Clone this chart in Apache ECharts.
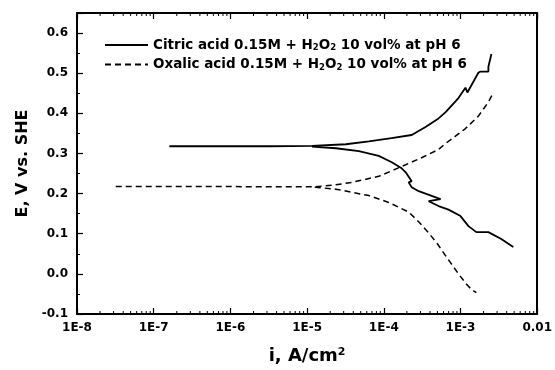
<!DOCTYPE html>
<html><head><meta charset="utf-8">
<script src="https://cdn.jsdelivr.net/npm/echarts@6/dist/echarts.min.js"></script>
<style>html,body{margin:0;padding:0;background:#fff}#c{width:555px;height:370px}</style>
</head><body><div id="c"></div>
<script>
// Tick labels
const xTickLabels = ['1E-8','1E-7','1E-6','1E-5','1E-4','1E-3','0.01'];
const yTickLabels = ['-0.1','0.0','0.1','0.2','0.3','0.4','0.5','0.6'];
const seriesNames = ['Citric acid 0.15M + H2O2 10 vol% at pH 6', 'Oxalic acid 0.15M + H2O2 10 vol% at pH 6'];

// Citric acid: [i (A/cm2), E (V vs SHE)]
const citricAnodic = [
  [1.6e-7,0.318],[3.2e-6,0.318],[1.16e-5,0.319],[3.2e-5,0.323],[6.4e-5,0.330],
  [1.26e-4,0.338],[2.31e-4,0.346],[3.5e-4,0.366],[5.0e-4,0.385],[6.4e-4,0.403],
  [9.4e-4,0.438],[1.16e-3,0.464],[1.23e-3,0.452],[1.71e-3,0.501],[1.82e-3,0.504],
  [2.31e-3,0.504],[2.31e-3,0.516],[2.53e-3,0.548]
];
const citricCathodic = [
  [1.16e-5,0.317],[2.38e-5,0.313],[4.73e-5,0.306],[8.6e-5,0.294],[1.27e-4,0.278],
  [1.71e-4,0.263],[1.93e-4,0.253],[2.31e-4,0.231],[2.11e-4,0.228],[2.31e-4,0.216],
  [2.85e-4,0.206],[5.5e-4,0.186],[3.84e-4,0.181],[5.18e-4,0.169],[6.98e-4,0.160],
  [1.0e-3,0.144],[1.27e-3,0.119],[1.61e-3,0.104],[2.31e-3,0.104],[3.40e-3,0.087],
  [4.88e-3,0.067]
];
// Oxalic acid
const oxalicAnodic = [
  [3.2e-8,0.218],[3.2e-7,0.218],[3.2e-6,0.217],[1.26e-5,0.217],[2.38e-5,0.222],
  [3.84e-5,0.228],[8.6e-5,0.243],[1.93e-4,0.272],[3.16e-4,0.290],[5.18e-4,0.310],
  [6.4e-4,0.325],[8.6e-4,0.343],[1.16e-3,0.362],[1.71e-3,0.393],[2.31e-3,0.428],
  [2.69e-3,0.452]
];
const oxalicCathodic = [
  [1.26e-5,0.216],[2.38e-5,0.211],[6.4e-5,0.195],[1.16e-4,0.178],[2.11e-4,0.154],
  [2.85e-4,0.130],[3.84e-4,0.102],[5.0e-4,0.075],[6.4e-4,0.045],[7.8e-4,0.022],
  [9.4e-4,0.000],[1.2e-3,-0.026],[1.41e-3,-0.040],[1.61e-3,-0.047]
];

const X_MIN = 1e-8, X_MAX = 1e-2, Y_MIN = -0.1, Y_MAX = 0.65;
const xMinorTicks = [];
for (let e = -8; e < -2; e++) for (let k = 2; k <= 9; k++) xMinorTicks.push([k * Math.pow(10, e), Y_MIN]);

const FONT = 'DejaVu Sans';
const LFS = 13.5;
const richSub = {
  n: {fontFamily: FONT, fontWeight: 'bold', fontSize: LFS, color: '#000', lineHeight: 15},
  sub: {fontFamily: FONT, fontWeight: 'bold', fontSize: 8.5, color: '#000', lineHeight: 9, verticalAlign: 'bottom'}
};
function richName(s) {
  return s.split('H2O2').map(p => '{n|' + p + '}').join('{n|H}{sub|2}{n|O}{sub|2}');
}

const chart = echarts.init(document.getElementById('c'), null, {renderer: 'canvas'});
const solid = {color: '#000', width: 1.8, type: 'solid'};
const dashed = {color: '#000', width: 1.5, type: [6, 4]};
chart.setOption({
  backgroundColor: '#fff',
  animation: false,
  grid: {left: 77, right: 15, top: 13, bottom: 50},
  legend: {
    data: seriesNames, orient: 'vertical', left: 104, top: 38, padding: 0,
    itemWidth: 43, itemHeight: 14, itemGap: 5,
    itemStyle: {opacity: 0},
    formatter: richName,
    textStyle: {rich: richSub, fontFamily: FONT, fontWeight: 'bold', fontSize: LFS, color: '#000'}
  },
  xAxis: [{
    type: 'log', logBase: 10, min: X_MIN, max: X_MAX, interval: 1,
    axisLine: {onZero: false, lineStyle: {color: '#000', width: 2}},
    axisTick: {inside: true, length: 6, lineStyle: {color: '#000', width: 1.2}},
    splitLine: {show: false},
    axisLabel: {
      margin: 8, color: '#000', fontFamily: FONT, fontWeight: 'bold', fontSize: 12,
      formatter: v => xTickLabels[Math.round(Math.log10(v)) + 8] || ''
    },
    name: 'i, A/cm{sup|2}', nameLocation: 'middle', nameGap: 33,
    nameTextStyle: {
      fontFamily: FONT, fontWeight: 'bold', fontSize: 18, color: '#000',
      rich: {sup: {fontFamily: FONT, fontWeight: 'bold', fontSize: 11, color: '#000', verticalAlign: 'top', lineHeight: 10}}
    }
  }, {
    type: 'log', logBase: 10, min: X_MIN, max: X_MAX, interval: 1, position: 'top',
    axisLine: {onZero: false, lineStyle: {color: '#000', width: 2}},
    axisTick: {inside: true, length: 6, lineStyle: {color: '#000', width: 1.2}},
    axisLabel: {show: false}, splitLine: {show: false}
  }],
  yAxis: [{
    type: 'value', min: Y_MIN, max: Y_MAX, interval: 0.1,
    axisLine: {onZero: false, lineStyle: {color: '#000', width: 2}},
    axisTick: {inside: true, length: 6, lineStyle: {color: '#000', width: 1.2}},
    minorTick: {show: true, splitNumber: 2, length: 3, lineStyle: {color: '#000', width: 1}},
    splitLine: {show: false},
    axisLabel: {
      margin: 9, color: '#000', fontFamily: FONT, fontWeight: 'bold', fontSize: 12,
      formatter: v => { const i = Math.round((v - Y_MIN) * 10); return Math.abs((v - Y_MIN) * 10 - i) < 1e-6 ? (yTickLabels[i] || '') : ''; }
    },
    name: 'E, V vs. SHE', nameLocation: 'middle', nameGap: 44,
    nameTextStyle: {fontFamily: FONT, fontWeight: 'bold', fontSize: 16, color: '#000'}
  }, {
    type: 'value', min: Y_MIN, max: Y_MAX, position: 'right',
    axisLine: {show: true, onZero: false, lineStyle: {color: '#000', width: 2}},
    axisTick: {show: false}, axisLabel: {show: false}, splitLine: {show: false}
  }],
  series: [
    {name: seriesNames[0], type: 'line', data: citricAnodic, showSymbol: false, symbol: 'none', lineStyle: solid, itemStyle: {color: '#000'}},
    {name: seriesNames[0], type: 'line', data: citricCathodic, showSymbol: false, symbol: 'none', lineStyle: solid, itemStyle: {color: '#000'}},
    {name: seriesNames[1], type: 'line', data: oxalicAnodic, showSymbol: false, symbol: 'none', lineStyle: dashed, itemStyle: {color: '#000'}},
    {name: seriesNames[1], type: 'line', data: oxalicCathodic, showSymbol: false, symbol: 'none', lineStyle: dashed, itemStyle: {color: '#000'}},
    {
      name: 'minorTicks', type: 'custom', data: xMinorTicks, silent: true, clip: false,
      renderItem: (params, api) => {
        const v = api.value(0);
        const b = api.coord([v, Y_MIN]);
        const t = api.coord([v, Y_MAX]);
        return {type: 'group', children: [
          {type: 'line', shape: {x1: b[0], y1: b[1], x2: b[0], y2: b[1] - 3}, style: {stroke: '#000', lineWidth: 1}},
          {type: 'line', shape: {x1: t[0], y1: t[1], x2: t[0], y2: t[1] + 3}, style: {stroke: '#000', lineWidth: 1}}
        ]};
      }
    }
  ]
});
</script></body></html>
